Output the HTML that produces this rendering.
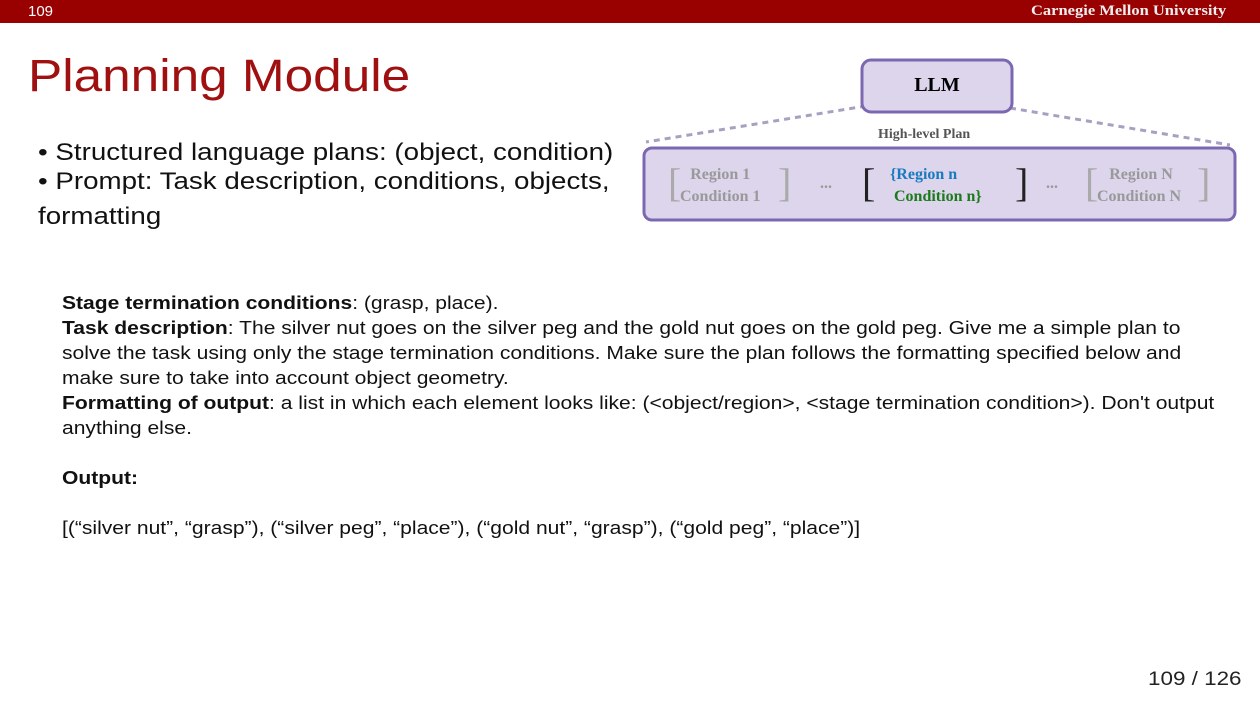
<!DOCTYPE html>
<html><head><style>
body{margin:0;width:1260px;height:709px;background:#fff;position:relative;overflow:hidden;font-family:"Liberation Sans",sans-serif}
.a{position:absolute;white-space:nowrap}
.s{font-family:"Liberation Serif",serif;font-weight:bold}
.sx{transform-origin:0 0}
</style></head><body>
<div class="a" style="left:0;top:0;width:1260px;height:23px;background:#990000"></div>
<div class="a" style="left:28px;top:3px;color:#fff;font-size:15px">109</div>
<div class="a s sx" style="left:1031px;top:3px;color:#eee;font-size:15px;transform:scaleX(1.1)">Carnegie Mellon University</div>
<div class="a sx" style="left:28px;top:50px;color:#a01010;font-size:45px;transform:scaleX(1.14)">Planning Module</div>
<div class="a sx" style="left:38px;top:138px;font-size:24px;line-height:29px;color:#111;transform:scaleX(1.155)">• Structured language plans: (object, condition)<br>• Prompt: Task description, conditions, objects,<br><span style="position:relative;top:6px">formatting</span></div>
<svg class="a" style="left:0;top:0" width="1260" height="709">
<line x1="866" y1="106" x2="646" y2="142" stroke="#a8a0c0" stroke-width="3" stroke-dasharray="6,5"/>
<line x1="1010" y1="108" x2="1230" y2="145" stroke="#a8a0c0" stroke-width="3" stroke-dasharray="6,5"/>
<rect x="862" y="60" width="150" height="52" rx="9" fill="#ddd5ec" stroke="#7b68b0" stroke-width="3"/>
<rect x="644" y="148" width="591" height="72" rx="8" fill="#ddd5ec" stroke="#7b68b0" stroke-width="3"/>
</svg>
<div class="a s" style="left:862px;top:74px;width:150px;text-align:center;font-size:20px">LLM</div>
<div class="a s" style="left:878px;top:127px;font-size:14px;color:#555">High-level Plan</div>
<div class="a s" style="left:668px;top:159px;font-size:40px;color:#aaa;font-weight:normal">[</div>
<div class="a s" style="left:680px;top:164px;font-size:16px;color:#999;line-height:22px;text-align:center">Region 1<br>Condition 1</div>
<div class="a s" style="left:778px;top:159px;font-size:40px;color:#aaa;font-weight:normal">]</div>
<div class="a s" style="left:820px;top:175px;font-size:16px;color:#999">...</div>
<div class="a s" style="left:862px;top:159px;font-size:40px;color:#222;font-weight:normal">[</div>
<div class="a s" style="left:890px;top:164px;font-size:16px;line-height:22px"><span style="color:#1a7ac0">{Region n</span><br><span style="color:#1c7a1c">&nbsp;Condition n}</span></div>
<div class="a s" style="left:1015px;top:159px;font-size:40px;color:#222;font-weight:normal">]</div>
<div class="a s" style="left:1046px;top:175px;font-size:16px;color:#999">...</div>
<div class="a s" style="left:1085px;top:159px;font-size:40px;color:#aaa;font-weight:normal">[</div>
<div class="a s" style="left:1097px;top:164px;font-size:16px;color:#999;line-height:22px;text-align:center">&nbsp;Region N<br>Condition N</div>
<div class="a s" style="left:1197px;top:159px;font-size:40px;color:#aaa;font-weight:normal">]</div>
<div class="a sx" style="left:62px;top:291px;font-size:18px;line-height:25px;color:#111;transform:scaleX(1.17)">
<b>Stage termination conditions</b>: (grasp, place).<br>
<b>Task description</b>: The silver nut goes on the silver peg and the gold nut goes on the gold peg. Give me a simple plan to<br>solve the task using only the stage termination conditions. Make sure the plan follows the formatting specified below and<br>make sure to take into account object geometry.<br>
<b>Formatting of output</b>: a list in which each element looks like: (&lt;object/region&gt;, &lt;stage termination condition&gt;). Don't output<br>anything else.<br><br>
<b>Output:</b><br><br>
[(“silver nut”, “grasp”), (“silver peg”, “place”), (“gold nut”, “grasp”), (“gold peg”, “place”)]
</div>
<div class="a sx" style="left:1148px;top:669px;font-size:19px;color:#222;transform:scaleX(1.18)">109 / 126</div>
</body></html>
